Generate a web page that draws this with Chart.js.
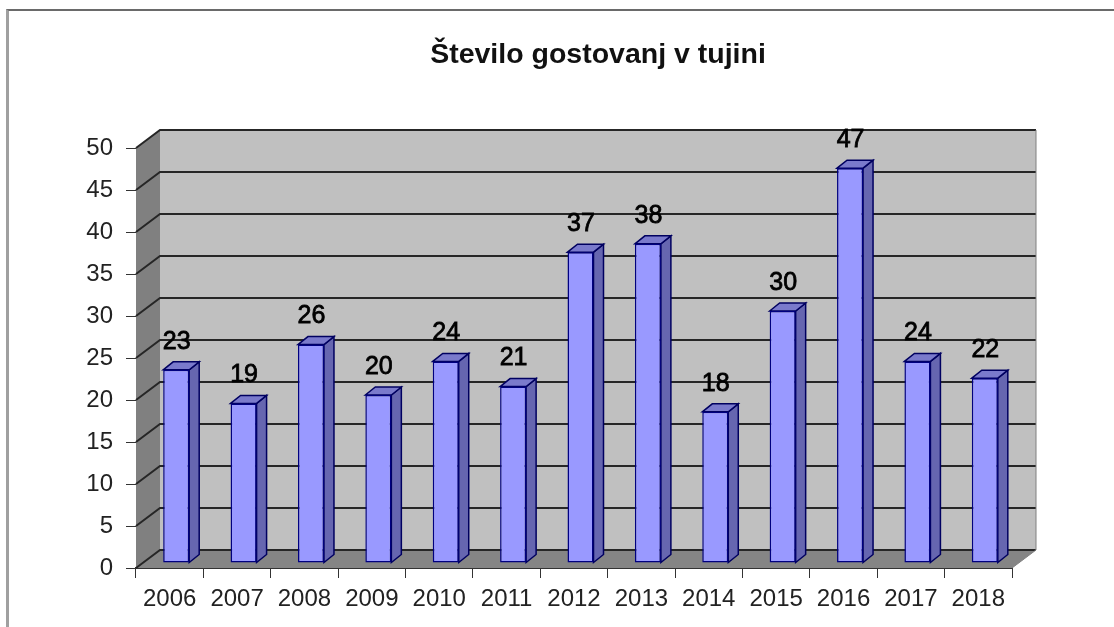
<!DOCTYPE html>
<html>
<head>
<meta charset="utf-8">
<script src="https://cdn.jsdelivr.net/npm/chart.js@4"></script>
<style>
  html, body { margin: 0; padding: 0; background: #fff; overflow: hidden; }
  #frame { position: absolute; left: 6px; top: 9px; right: 0; bottom: 0; border-top: 2px solid #6a6a6a; border-left: 3px solid #a0a0a0; filter: blur(0.4px); }
  #gostovanjaChart { position: absolute; left: 0; top: 0; filter: blur(0.45px); }
</style>
</head>
<body>
<div id="frame"></div>
<canvas id="gostovanjaChart" width="1114" height="627" style="width:1114px;height:627px"></canvas>
<script>
const chartTitle = "Število gostovanj v tujini";
const years = ["2006", "2007", "2008", "2009", "2010", "2011", "2012", "2013", "2014", "2015", "2016", "2017", "2018"];
const guestPerformances = [23, 19, 26, 20, 24, 21, 37, 38, 18, 30, 47, 24, 22];

// fake 3D depth of the box and of the bars inside it
const boxDepth = { x: 24, y: -18 };
const barShift = { x: 6.5, y: -5 };
const barDepth = { x: 10, y: -8 };

const poly = (ctx, pts, fill, stroke) => {
  ctx.beginPath();
  pts.forEach((p, i) => (i ? ctx.lineTo(p[0], p[1]) : ctx.moveTo(p[0], p[1])));
  ctx.closePath();
  ctx.fillStyle = fill;
  ctx.fill();
  if (stroke) {
    ctx.strokeStyle = stroke;
    ctx.lineWidth = 1.5;
    ctx.stroke();
  }
};

const box3d = {
  id: "box3d",
  beforeDatasetsDraw(chart) {
    const { ctx, chartArea: a, scales } = chart;
    const dx = boxDepth.x, dy = boxDepth.y;
    ctx.save();
    // title sits over the plot box, not over the whole canvas, so it is placed here
    ctx.font = "bold 28.5px 'Liberation Sans'";
    ctx.textAlign = "center";
    ctx.textBaseline = "middle";
    ctx.fillStyle = "#111";
    ctx.fillText(chartTitle, 598, 55);

    poly(ctx, [[a.left + dx, a.top + dy], [a.right + dx, a.top + dy], [a.right + dx, a.bottom + dy], [a.left + dx, a.bottom + dy]], "#c0c0c0");
    poly(ctx, [[a.left, a.top], [a.left + dx, a.top + dy], [a.left + dx, a.bottom + dy], [a.left, a.bottom]], "#808080");
    poly(ctx, [[a.left, a.bottom], [a.left + dx, a.bottom + dy], [a.right + dx, a.bottom + dy], [a.right, a.bottom]], "#858585");
    ctx.strokeStyle = "#262626";
    ctx.lineWidth = 2;
    scales.y.ticks.forEach((t) => {
      const y = scales.y.getPixelForValue(t.value);
      ctx.beginPath();
      ctx.moveTo(a.left, y);
      ctx.lineTo(a.left + dx, y + dy);
      ctx.lineTo(a.right + dx, y + dy);
      ctx.stroke();
    });
    ctx.strokeStyle = "#808080";
    ctx.lineWidth = 1;
    ctx.beginPath();
    ctx.moveTo(a.right + dx, a.top + dy);
    ctx.lineTo(a.right + dx, a.bottom + dy);
    ctx.lineTo(a.right, a.bottom);
    ctx.stroke();
    ctx.restore();
  },
  beforeDatasetDraw(chart) {
    const { ctx } = chart;
    ctx.save();
    ctx.translate(barShift.x, barShift.y);
    // side and top faces go under the front face
    chart.getDatasetMeta(0).data.forEach((bar) => {
      const l = bar.x - bar.width / 2, r = bar.x + bar.width / 2;
      poly(ctx, [[r, bar.y], [r + barDepth.x, bar.y + barDepth.y], [r + barDepth.x, bar.base + barDepth.y], [r, bar.base]], "#6666b0", "#000060");
      poly(ctx, [[l, bar.y], [l + barDepth.x, bar.y + barDepth.y], [r + barDepth.x, bar.y + barDepth.y], [r, bar.y]], "#7a7acc", "#000060");
    });
  },
  afterDatasetDraw(chart) {
    chart.ctx.restore();
  },
  afterDatasetsDraw(chart) {
    const { ctx } = chart;
    ctx.save();
    ctx.font = "25px 'Liberation Sans'";
    ctx.textAlign = "center";
    ctx.textBaseline = "middle";
    ctx.fillStyle = "#000";
    ctx.strokeStyle = "#000";
    ctx.lineWidth = 0.8;
    chart.getDatasetMeta(0).data.forEach((bar, i) => {
      const label = String(guestPerformances[i]);
      ctx.fillText(label, bar.x + barShift.x + 0.5, bar.y - 33);
      ctx.strokeText(label, bar.x + barShift.x + 0.5, bar.y - 33);
    });
    ctx.restore();
  }
};

const gostovanjaCtx = document.getElementById("gostovanjaChart").getContext("2d");
const gostovanjaChart = new Chart(gostovanjaCtx, {
  type: "bar",
  data: {
    labels: years,
    datasets: [{
      data: guestPerformances,
      backgroundColor: "#9999ff",
      borderColor: "#000080",
      borderWidth: 1.5,
      borderSkipped: false,
      barPercentage: 0.386,
      categoryPercentage: 1
    }]
  },
  options: {
    responsive: false,
    animation: false,
    layout: {
      padding: { left: 0, right: 102, top: 148, bottom: 10 }
    },
    plugins: {
      legend: { display: false },
      tooltip: { enabled: false },
      title: { display: false }
    },
    scales: {
      x: {
        afterFit: (scale) => { scale.height = 49; },
        grid: { drawOnChartArea: false, tickLength: 10, color: "#333", tickColor: "#333" },
        border: { color: "#333", width: 2 },
        ticks: {
          color: "#222",
          padding: 7,
          maxRotation: 0,
          autoSkip: false,
          font: { family: "'Liberation Sans'", size: 24 }
        }
      },
      y: {
        min: 0,
        max: 50,
        afterFit: (scale) => { scale.width = 136; },
        grid: { drawOnChartArea: false, tickLength: 10, color: "#333", tickColor: "#333" },
        border: { display: false },
        ticks: {
          stepSize: 5,
          color: "#222",
          padding: 13,
          font: { family: "'Liberation Sans'", size: 24 }
        }
      }
    }
  },
  plugins: [box3d]
});
</script>
</body>
</html>
